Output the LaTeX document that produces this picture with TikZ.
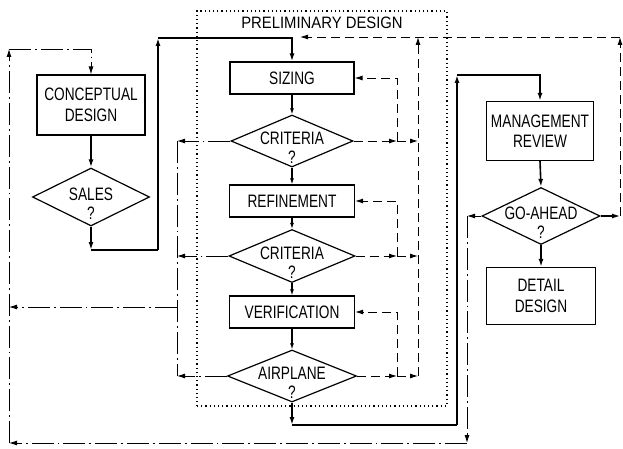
\documentclass[tikz,border=0pt]{standalone}
\usepackage{fontspec}
\setmainfont{Liberation Sans}[FakeStretch=0.76]
\newfontfamily\titlefont{Liberation Sans}[FakeStretch=0.9]
\usetikzlibrary{arrows.meta, shapes.geometric}

% question text inside a decision diamond (kept out of the shape size)
\newcommand{\askbox}[1]{\smash{\makebox[0pt]{\raisebox{-3pt}{\begin{tabular}[t]{@{}c@{}}#1\\?\end{tabular}}}}}

\begin{document}
\begin{tikzpicture}[
        x=10pt, y=-10pt,
        >={Latex[length=8pt, width=5pt]},
        block/.style={draw, rectangle, line width=1.2pt, align=center, font=\fontsize{18}{20.5}\selectfont, inner sep=2pt},
        query/.style={draw, diamond, line width=1.2pt, inner sep=0pt, font=\fontsize{18}{19}\selectfont},
        flow/.style={line width=1.6pt},
        link/.style={line width=1.2pt, -{Latex[length=6pt, width=4pt]}},
        recycle/.style={line width=0.9pt, dash pattern=on 9pt off 5pt},
        reject/.style={line width=0.9pt, dash pattern=on 22pt off 4pt on 1.8pt off 4pt},
        frame/.style={line width=1.2pt, dash pattern=on 1.2pt off 3pt}
    ]
    \useasboundingbox (0,0) rectangle (62.3,44.9);

    % --- Preliminary design frame ---
    \node[draw, frame, minimum width=250pt, minimum height=395pt, inner sep=0pt] (prelim) at (32.2,20.85) {};
    \node[font=\titlefont\fontsize{16.5}{16.5}\selectfont, anchor=north, inner sep=0pt] (prelimlabel) at ([yshift=-6pt]prelim.north) {PRELIMINARY DESIGN};

    % --- Concept stage ---
    \node[block, minimum width=108pt, minimum height=60pt] (concept) at (9.1,10.5) {CONCEPTUAL\\DESIGN};
    \node[query, minimum width=117pt, minimum height=58pt] (sales) at (9.1,19.7) {\askbox{SALES}};

    % --- Preliminary design stages ---
    \node[block, minimum width=124pt, minimum height=32pt] (sizing) at (29.2,7.8) {SIZING};
    \node[query, minimum width=122pt, minimum height=52pt] (crit1) at (29.2,14.1) {\askbox{CRITERIA}};
    \node[block, minimum width=125pt, minimum height=32pt] (refine) at (29.2,20.1) {REFINEMENT};
    \node[query, minimum width=126pt, minimum height=53pt] (crit2) at (29.2,25.6) {\askbox{CRITERIA}};
    \node[block, minimum width=125pt, minimum height=32pt] (verif) at (29.2,31.2) {VERIFICATION};
    \node[query, minimum width=129pt, minimum height=52pt] (airplane) at (29.2,37.6) {\askbox{AIRPLANE}};

    % --- Management stage ---
    \node[block, minimum width=107pt, minimum height=59pt] (mgmt) at (54.0,13.1) {MANAGEMENT\\REVIEW};
    \node[query, minimum width=118pt, minimum height=57pt] (goahead) at (54.1,21.6) {\askbox{GO-AHEAD}};
    \node[block, minimum width=109pt, minimum height=57pt] (detail) at (54.1,29.6) {DETAIL\\DESIGN};

    % --- Bend points ---
    \coordinate (salesdrop) at (9.1,25.0);
    \coordinate (salesrun) at (15.8,25.0);
    \coordinate (salestop) at (15.8,3.8);
    \coordinate (planedrop) at (29.2,42.5);
    \coordinate (planerun) at (45.7,42.5);
    \coordinate (planetop) at (45.7,7.5);
    \coordinate (sizefork) at (39.7,14.1);
    \coordinate (sizeback) at (41.8,14.1);
    \coordinate (refinefork) at (39.7,25.6);
    \coordinate (refineback) at (41.8,25.6);
    \coordinate (veriffork) at (39.7,37.6);
    \coordinate (verifback) at (41.8,37.6);
    \coordinate (backtop) at (41.8,3.7);
    \coordinate (goright) at (62.0,21.6);
    \coordinate (gocorner) at (62.0,3.7);
    \coordinate (restart) at (30.0,3.7);
    \coordinate (failone) at (17.7,14.1);
    \coordinate (failtwo) at (17.7,25.6);
    \coordinate (failthree) at (17.7,37.6);
    \coordinate (failmid) at (17.7,30.7);
    \coordinate (failout) at (0.9,30.7);
    \coordinate (stopturn) at (46.7,21.6);
    \coordinate (stopdrop) at (46.7,44.3);
    \coordinate (bottomleft) at (0.9,44.3);
    \coordinate (topleft) at (0.9,4.9);

    % --- Main flow ---
    \draw[->, flow] (concept.south) -- (sales.north);
    \draw[->, flow] (sales.south) -- (salesdrop);
    \draw[flow] (salesdrop) -- (salesrun);
    \draw[->, flow] (salesrun) -- (salestop);
    \draw[->, flow] (salestop) -| (sizing.north);

    \draw[link] (sizing.south) -- (crit1.north);
    \draw[link] (crit1.south) -- (refine.north);
    \draw[link] (refine.south) -- (crit2.north);
    \draw[link] (crit2.south) -- (verif.north);
    \draw[link] (verif.south) -- (airplane.north);

    \draw[->, flow] (airplane.south) -- (planedrop);
    \draw[flow] (planedrop) -- (planerun);
    \draw[->, flow] (planerun) -- (planetop);
    \draw[->, flow] (planetop) -| (mgmt.north);

    \draw[->, flow] (mgmt.south) -- (goahead.north);
    \draw[->, flow] (goahead.south) -- (detail.north);

    % --- Iteration loops (dashed) ---
    \draw[->, recycle] (crit1.east) -- (sizefork);
    \draw[->, recycle] (sizefork) -- (sizeback);
    \draw[->, recycle] (sizefork) |- (sizing.east);
    \draw[->, recycle] (crit2.east) -- (refinefork);
    \draw[->, recycle] (refinefork) -- (refineback);
    \draw[->, recycle] (refinefork) |- (refine.east);
    \draw[->, recycle] (airplane.east) -- (veriffork);
    \draw[->, recycle] (veriffork) -- (verifback);
    \draw[->, recycle] (veriffork) |- (verif.east);
    \draw[->, recycle] (verifback) -- (backtop);

    \draw[->, line width=1.2pt] (goahead.east) -- (goright);
    \draw[->, recycle] (goright) -- (gocorner);
    \draw[->, recycle] (gocorner) -- (restart);

    % --- Rejection paths (dash-dot) ---
    \draw[->, reject] (crit1.west) -- (failone);
    \draw[->, reject] (crit2.west) -- (failtwo);
    \draw[->, reject] (airplane.west) -- (failthree);
    \draw[reject] (failone) -- (failthree);
    \draw[->, reject] (failmid) -- (failout);

    \draw[->, reject] (goahead.west) -- (stopturn);
    \draw[->, reject] (stopturn) -- (stopdrop);
    \draw[->, reject] (stopdrop) -- (bottomleft);
    \draw[->, reject] (bottomleft) -- (topleft);
    \draw[->, reject] (topleft) -| (concept.north);

\end{tikzpicture}
\end{document}
